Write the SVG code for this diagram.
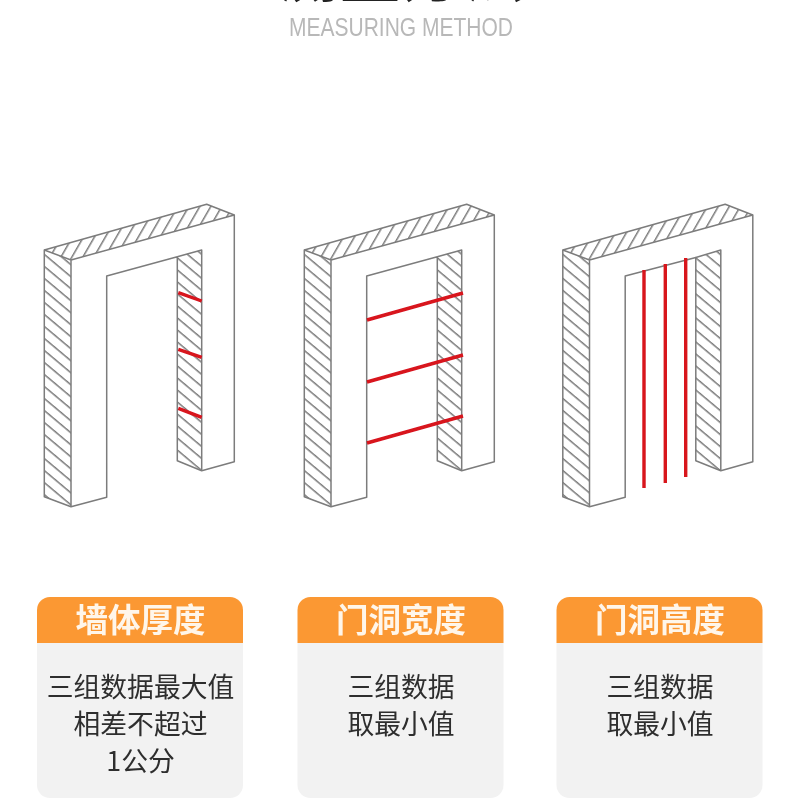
<svg xmlns="http://www.w3.org/2000/svg" xmlns:xlink="http://www.w3.org/1999/xlink" width="800" height="800" viewBox="0 0 800 800">
<style>
.e{fill:none;stroke:#7c7c7c;stroke-width:1.5;stroke-linejoin:round}
.r{stroke:#d8121f;stroke-width:3.4;fill:none}
.h{font-family:"Noto Sans CJK SC",sans-serif;font-size:32.5px;font-weight:700;fill:#fff6ea;text-anchor:middle;filter:url(#soft)}
.b{font-family:"Noto Sans CJK SC",sans-serif;font-size:26.8px;fill:#2e2e2e;text-anchor:middle;filter:url(#soft)}
.hd{fill:#fb9833}
.bd{fill:#f2f2f2}
.door,.ms,.sub{filter:url(#soft)}
</style>
<defs>
<filter id="soft" x="-5%" y="-5%" width="110%" height="110%"><feGaussianBlur stdDeviation="0.4"/></filter>
<pattern id="hs" width="9.2" height="9.2" patternUnits="userSpaceOnUse" patternTransform="rotate(40)"><rect width="9.2" height="1.5" fill="#7c7c7c"/></pattern>
<pattern id="ht" width="9.5" height="9.5" patternUnits="userSpaceOnUse" patternTransform="rotate(-60)"><rect width="9.5" height="1.5" fill="#7c7c7c"/></pattern>
<path id="cardb" d="M37 643H243V785a13 13 0 0 1-13 13H50a13 13 0 0 1-13-13Z"/>
<path id="cardh" d="M37 643V610a13 13 0 0 1 13-13H230a13 13 0 0 1 13 13V643Z"/>
</defs>
<rect width="800" height="800" fill="#fff"/>
<g id="title">
<text x="402" y="-3" font-family="'Noto Sans CJK SC',sans-serif" font-size="60" font-weight="500" fill="#222" text-anchor="middle" letter-spacing="2">测量方法</text>
<text class="sub" x="401" y="36" font-family="'Liberation Sans',sans-serif" font-size="25" fill="#b8b8b8" text-anchor="middle" textLength="224" lengthAdjust="spacingAndGlyphs">MEASURING METHOD</text>
</g>
<g id="door1" class="door">
<path d="M44.3 250L71 260V506.7L44.3 496.7Z" fill="url(#hs)"/>
<path d="M177.3 256.7L201.7 250V470.7L177.3 460.7Z" fill="url(#hs)"/>
<path d="M44.3 250L206.7 204.3L234.3 215L71 260Z" fill="url(#ht)"/>
<path class="e" d="M44.3 250L206.7 204.3L234.3 215V461.7L201.7 470.7L177.3 460.7V256.7L106.7 276V497.3L71 506.7L44.3 496.7Z"/>
<path class="e" d="M44.3 250L71 260L234.3 215M71 260V506.7M177.3 256.7L201.7 250V470.7"/>
</g>
<g id="door2" class="door" transform="translate(260 0)">
<path d="M44.3 250L71 260V506.7L44.3 496.7Z" fill="url(#hs)"/>
<path d="M177.3 256.7L201.7 250V470.7L177.3 460.7Z" fill="url(#hs)"/>
<path d="M44.3 250L206.7 204.3L234.3 215L71 260Z" fill="url(#ht)"/>
<path class="e" d="M44.3 250L206.7 204.3L234.3 215V461.7L201.7 470.7L177.3 460.7V256.7L106.7 276V497.3L71 506.7L44.3 496.7Z"/>
<path class="e" d="M44.3 250L71 260L234.3 215M71 260V506.7M177.3 256.7L201.7 250V470.7"/>
</g>
<g id="door3" class="door" transform="translate(518.5 0)">
<path d="M44.3 250L71 260V506.7L44.3 496.7Z" fill="url(#hs)"/>
<path d="M177.3 257.5L202.3 250V470.7L177.3 460.7Z" fill="url(#hs)"/>
<path d="M44.3 250L206.7 204.3L234.3 215L71 260Z" fill="url(#ht)"/>
<path class="e" d="M44.3 250L206.7 204.3L234.3 215V461.7L202.3 470.7L177.3 460.7V257.5L106.7 276V497.3L71 506.7L44.3 496.7Z"/>
<path class="e" d="M44.3 250L71 260L234.3 215M71 260V506.7M177.3 257.5L202.3 250V470.7"/>
</g>
<g id="measures" class="ms">
<path class="r" d="M178.3 292.7L201.7 301M178.3 349.3L201.7 357.3M178.3 408.3L201.7 417.3"/>
<path class="r" d="M367 320L463 293M367 382L463 355M367 443L463 416"/>
<path class="r" d="M644 270V488M665.3 264V483M685.7 258V477"/>
</g>
<g id="card1">
<use xlink:href="#cardb" class="bd"/><use xlink:href="#cardh" class="hd"/>
<text class="h" x="140.5" y="632">墙体厚度</text>
<text class="b" x="140.5" y="697">三组数据最大值</text>
<text class="b" x="140.5" y="734">相差不超过</text>
<text class="b" x="140.5" y="771">1公分</text>
</g>
<g id="card2" transform="translate(260.5 0)">
<use xlink:href="#cardb" class="bd"/><use xlink:href="#cardh" class="hd"/>
<text class="h" x="140.5" y="632">门洞宽度</text>
<text class="b" x="140.5" y="697">三组数据</text>
<text class="b" x="140.5" y="734">取最小值</text>
</g>
<g id="card3" transform="translate(519.5 0)">
<use xlink:href="#cardb" class="bd"/><use xlink:href="#cardh" class="hd"/>
<text class="h" x="140.5" y="632">门洞高度</text>
<text class="b" x="140.5" y="697">三组数据</text>
<text class="b" x="140.5" y="734">取最小值</text>
</g>
</svg>
